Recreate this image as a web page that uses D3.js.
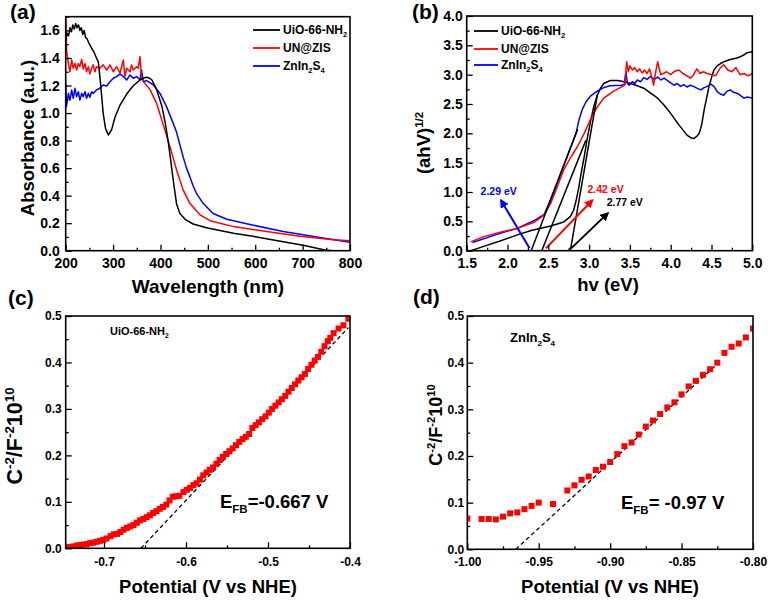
<!DOCTYPE html>
<html><head><meta charset="utf-8">
<script src="https://cdn.jsdelivr.net/npm/d3@7"></script>
<style>body{margin:0;background:#fff}svg{display:block}</style>
</head><body><svg id="c" width="768" height="600"></svg>
<script>
const FONT = '"Liberation Sans", Arial, sans-serif';
// ---------- (a) UV-vis absorbance ----------
const absUiO = [[200,1.53],[203,1.58],[206,1.56],[209,1.62],[212,1.59],[215,1.64],[218,1.61],[221,1.65],[224,1.62],[227,1.64],[230,1.60],[233,1.62],[236,1.57],[239,1.60],[242,1.55],[245,1.54],[250,1.50],[255,1.47],[260,1.44],[265,1.40],[269,1.37],[272,1.27],[276,1.12],[279,1.0],[284,0.89],[290,0.84],[297,0.88],[304,0.97],[315,1.06],[329,1.14],[343,1.20],[357,1.24],[365,1.255],[371,1.26],[376,1.255],[382,1.24],[392,1.17],[403,1.05],[410,0.93],[416,0.80],[420,0.70],[427,0.51],[434,0.34],[441,0.27],[452,0.228],[469,0.194],[497,0.167],[554,0.126],[603,0.10],[659,0.065],[701,0.04],[747,0.005],[765,0.0],[800,-0.005]];
const absUNZIS = [[200,1.72],[202,1.45],[205.6,1.36],[209,1.30],[212.6,1.386],[216,1.325],[219.6,1.362],[223,1.313],[226.7,1.36],[230,1.337],[233.7,1.39],[237,1.32],[240.7,1.36],[244,1.30],[247.8,1.337],[251,1.284],[254.8,1.325],[258,1.35],[261.8,1.30],[265,1.337],[272,1.325],[279,1.35],[286.5,1.313],[293.5,1.35],[300.5,1.30],[307.6,1.337],[314.6,1.289],[321.6,1.386],[325,1.265],[328.7,1.325],[335.7,1.30],[339,1.35],[342.7,1.313],[349.8,1.337],[353,1.325],[356.8,1.41],[360,1.265],[364,1.23],[378,1.17],[392,1.07],[406,0.914],[420,0.756],[434,0.587],[448,0.44],[462,0.344],[483.5,0.26],[504.6,0.218],[554,0.175],[624,0.14],[694.5,0.105],[765,0.08],[800,0.072]];
const absZIS = [[200,1.216],[201.4,1.045],[205.6,1.143],[209,1.094],[212.6,1.168],[216,1.107],[219.6,1.18],[223,1.119],[226.7,1.155],[230,1.094],[233.7,1.143],[237,1.119],[240.7,1.155],[244,1.107],[247.8,1.143],[251,1.114],[254.8,1.155],[258,1.143],[265,1.168],[272,1.18],[279,1.204],[286.5,1.197],[293.5,1.228],[300.5,1.253],[307.6,1.265],[314.6,1.284],[321.6,1.265],[328.7,1.24],[335.7,1.277],[342.7,1.253],[349.8,1.265],[356.8,1.24],[360,1.313],[363.8,1.228],[371,1.236],[385,1.204],[399,1.143],[413,1.045],[427,0.925],[434,0.86],[441,0.77],[448,0.68],[455,0.60],[462,0.538],[469,0.47],[476,0.417],[490,0.344],[511,0.27],[540,0.228],[589,0.19],[659,0.14],[730,0.10],[800,0.062]];
const absTicksX = [200,300,400,500,600,700,800];
const absTicksY = [0,0.2,0.4,0.6,0.8,1.0,1.2,1.4,1.6];
// ---------- (b) Tauc plot ----------
const taucUiO = [[1.55,0.0],[1.7,0.07],[1.9,0.16],[2.12,0.27],[2.3,0.35],[2.53,0.42],[2.69,0.49],[2.77,0.58],[2.81,0.69],[2.84,0.85],[2.87,1.05],[2.90,1.3],[2.94,1.6],[2.98,1.93],[3.02,2.22],[3.06,2.47],[3.10,2.65],[3.14,2.77],[3.18,2.85],[3.26,2.90],[3.35,2.90],[3.43,2.88],[3.51,2.85],[3.59,2.81],[3.67,2.77],[3.75,2.69],[3.84,2.60],[3.92,2.48],[4.0,2.34],[4.06,2.22],[4.12,2.11],[4.2,1.97],[4.24,1.93],[4.28,1.91],[4.32,1.95],[4.35,2.0],[4.38,2.15],[4.41,2.40],[4.44,2.60],[4.47,2.80],[4.5,2.95],[4.53,3.08],[4.57,3.15],[4.61,3.19],[4.67,3.23],[4.73,3.26],[4.8,3.28],[4.86,3.31],[4.9,3.34],[4.94,3.375],[5.0,3.39]];
const taucUNZIS = [[1.55,0.15],[1.71,0.24],[1.9,0.31],[2.12,0.38],[2.32,0.48],[2.45,0.61],[2.53,0.81],[2.61,1.09],[2.69,1.38],[2.77,1.58],[2.86,1.78],[2.94,2.0],[3.02,2.25],[3.10,2.45],[3.18,2.60],[3.30,2.72],[3.41,2.80],[3.44,2.83],[3.46,3.22],[3.48,3.05],[3.50,3.15],[3.53,3.08],[3.56,3.12],[3.59,3.05],[3.62,3.10],[3.65,3.03],[3.68,3.08],[3.71,3.02],[3.74,3.10],[3.77,2.95],[3.79,2.82],[3.81,3.0],[3.84,3.22],[3.86,3.1],[3.88,3.0],[3.91,3.02],[3.95,3.05],[4.0,3.0],[4.05,3.06],[4.1,3.08],[4.15,3.02],[4.2,2.98],[4.24,2.94],[4.28,3.0],[4.32,3.1],[4.36,3.02],[4.4,3.05],[4.45,3.02],[4.5,3.0],[4.55,2.98],[4.6,3.1],[4.65,3.17],[4.7,3.08],[4.75,3.05],[4.8,3.12],[4.85,3.0],[4.9,3.02],[4.95,2.98],[5.0,3.02]];
const taucZIS = [[1.57,0.14],[1.92,0.30],[2.12,0.38],[2.32,0.51],[2.45,0.62],[2.53,0.88],[2.61,1.17],[2.69,1.46],[2.77,1.75],[2.84,2.0],[2.88,2.25],[2.92,2.42],[2.96,2.53],[3.02,2.64],[3.10,2.72],[3.18,2.78],[3.26,2.81],[3.39,2.82],[3.43,2.83],[3.45,3.05],[3.47,2.85],[3.49,2.82],[3.53,2.88],[3.56,2.85],[3.59,2.91],[3.63,2.88],[3.67,2.95],[3.71,2.92],[3.75,2.97],[3.8,2.92],[3.84,2.96],[3.88,2.91],[3.92,2.94],[3.96,2.90],[4.0,2.86],[4.04,2.82],[4.08,2.85],[4.12,2.80],[4.16,2.83],[4.2,2.79],[4.24,2.82],[4.28,2.80],[4.32,2.77],[4.37,2.74],[4.41,2.78],[4.45,2.80],[4.49,2.84],[4.53,2.80],[4.57,2.71],[4.61,2.67],[4.65,2.65],[4.69,2.72],[4.73,2.74],[4.77,2.70],[4.82,2.68],[4.86,2.64],[4.9,2.60],[4.94,2.62],[5.0,2.60]];
const taucTangents = [[[2.29,0],[2.86,2.07]],[[2.42,0],[2.96,1.88]],[[2.77,0],[3.10,2.65]]];
const taucArrows = [[[2.27,0.04],[1.92,0.86]],[[2.47,0.04],[3.04,0.86]],[[2.78,0.04],[3.23,0.64]]];
const taucArrowColors = ["#0000ff","#ff0000","#000000"];
const taucLabels = ["2.29 eV","2.42 eV","2.77 eV"];
const taucLabelAt = [[1.67,0.95],[2.98,0.98],[3.215,0.76]];
const taucTicksX = [1.5,2.0,2.5,3.0,3.5,4.0,4.5,5.0];
const taucTicksY = [0,0.5,1.0,1.5,2.0,2.5,3.0,3.5,4.0];
// ---------- (c) Mott-Schottky UiO-66-NH2 ----------
const msUiO = [[-0.745,0.002],[-0.741,0.003],[-0.737,0.004],[-0.733,0.006],[-0.729,0.007],[-0.725,0.008],[-0.721,0.009],[-0.717,0.011],[-0.713,0.012],[-0.709,0.014],[-0.705,0.016],[-0.701,0.018],[-0.697,0.021],[-0.692,0.026],[-0.688,0.030],[-0.684,0.031],[-0.680,0.035],[-0.676,0.040],[-0.672,0.044],[-0.668,0.047],[-0.664,0.050],[-0.660,0.055],[-0.656,0.060],[-0.652,0.063],[-0.648,0.067],[-0.644,0.071],[-0.640,0.076],[-0.636,0.080],[-0.632,0.085],[-0.628,0.089],[-0.624,0.094],[-0.620,0.103],[-0.616,0.111],[-0.612,0.112],[-0.608,0.113],[-0.603,0.121],[-0.599,0.126],[-0.595,0.130],[-0.591,0.136],[-0.587,0.140],[-0.583,0.148],[-0.579,0.157],[-0.575,0.163],[-0.571,0.169],[-0.567,0.174],[-0.563,0.182],[-0.559,0.190],[-0.555,0.197],[-0.551,0.203],[-0.547,0.209],[-0.543,0.215],[-0.539,0.222],[-0.535,0.229],[-0.531,0.235],[-0.527,0.240],[-0.523,0.246],[-0.519,0.259],[-0.515,0.265],[-0.511,0.271],[-0.507,0.278],[-0.503,0.284],[-0.499,0.292],[-0.495,0.300],[-0.491,0.307],[-0.487,0.314],[-0.483,0.321],[-0.479,0.328],[-0.475,0.337],[-0.471,0.345],[-0.467,0.353],[-0.463,0.361],[-0.459,0.368],[-0.455,0.375],[-0.451,0.386],[-0.447,0.395],[-0.443,0.404],[-0.439,0.412],[-0.435,0.423],[-0.431,0.435],[-0.427,0.446],[-0.424,0.453],[-0.420,0.463],[-0.414,0.473],[-0.408,0.480],[-0.402,0.494]];
const msUiOFit = [[-0.655,0],[-0.402,0.475]];
const msUiOTicksX = [-0.7,-0.6,-0.5,-0.4];
const msTicksY = [0,0.1,0.2,0.3,0.4,0.5];
// ---------- (d) Mott-Schottky ZnIn2S4 ----------
const msZIS = [[-1.0,0.066],[-0.990,0.065],[-0.985,0.065],[-0.980,0.064],[-0.975,0.070],[-0.970,0.077],[-0.965,0.079],[-0.960,0.086],[-0.955,0.093],[-0.950,0.10],[-0.940,0.097],[-0.930,0.126],[-0.925,0.137],[-0.920,0.149],[-0.915,0.156],[-0.910,0.170],[-0.905,0.177],[-0.900,0.187],[-0.895,0.204],[-0.890,0.221],[-0.885,0.229],[-0.880,0.246],[-0.875,0.263],[-0.870,0.276],[-0.865,0.29],[-0.860,0.304],[-0.855,0.315],[-0.850,0.332],[-0.845,0.349],[-0.840,0.361],[-0.835,0.374],[-0.830,0.386],[-0.825,0.40],[-0.820,0.421],[-0.815,0.434],[-0.810,0.441],[-0.805,0.454],[-0.80,0.473]];
const msZISFit = [[-0.966,0],[-0.824,0.40]];
const msZISTicksX = [-1.0,-0.95,-0.9,-0.85,-0.8];

const seriesNames = ["UiO-66-NH2","UN@ZIS","ZnIn2S4"];
const seriesColors = ["#000000","#ff0000","#0000ff"];

const svg = d3.select("#c");
const defs = svg.append("defs");

function rich(sel, parts, fs) {
  let shift = 0;
  parts.forEach(([t, type]) => {
    const target = type === "sup" ? -0.38*fs : type === "sub" ? 0.28*fs : 0;
    const ts = sel.append("tspan").attr("dy", target - shift).text(t);
    if (type !== "n") ts.attr("font-size", 0.62*fs);
    shift = target;
  });
}
function label(x, y, parts, fs, opts = {}) {
  const t = svg.append("text").attr("x", x).attr("y", y)
    .attr("font-family", FONT).attr("font-weight", opts.weight || "bold")
    .attr("font-size", fs).attr("fill", opts.fill || "#000")
    .attr("text-anchor", opts.anchor || "start");
  if (opts.rotate) t.attr("x", 0).attr("y", 0).attr("transform", `translate(${x},${y}) rotate(-90)`);
  rich(t, parts, fs);
  return t;
}
function mids(arr) { const m=[]; for (let i=0;i<arr.length-1;i++) m.push(+((arr[i]+arr[i+1])/2).toFixed(4)); return m; }

function panel(p) {
  const x = d3.scaleLinear().domain(p.xd).range([p.l, p.r]);
  const y = d3.scaleLinear().domain(p.yd).range([p.b, p.t]);
  const g = svg.append("g");
  const id = "clip" + p.name;
  defs.append("clipPath").attr("id", id).append("rect")
    .attr("x", p.l).attr("y", p.t).attr("width", p.r - p.l).attr("height", p.b - p.t);
  const plot = g.append("g").attr("clip-path", `url(#${id})`);
  const ax = g.append("g");
  const xMin = p.xMin || mids(p.xMaj), yMin = p.yMin || mids(p.yMaj);
  ax.append("g").attr("transform", `translate(0,${p.b})`)
    .call(d3.axisBottom(x).tickValues(xMin).tickSize(-3).tickFormat(""));
  ax.append("g").attr("transform", `translate(0,${p.b})`)
    .call(d3.axisBottom(x).tickValues(p.xMaj).tickSize(-6).tickPadding(p.xPad).tickFormat(p.xFmt));
  ax.append("g").attr("transform", `translate(${p.l},0)`)
    .call(d3.axisLeft(y).tickValues(yMin).tickSize(-3).tickFormat(""));
  ax.append("g").attr("transform", `translate(${p.l},0)`)
    .call(d3.axisLeft(y).tickValues(p.yMaj).tickSize(-6).tickPadding(p.yPad).tickFormat(p.yFmt));
  ax.selectAll(".domain").remove();
  ax.selectAll("line").attr("stroke-width", 1.3).attr("stroke", "#000");
  ax.selectAll("text").attr("font-size", p.fs).attr("font-weight", "bold")
    .attr("font-family", FONT).attr("fill", "#000");
  g.append("rect").attr("x", p.l).attr("y", p.t).attr("width", p.r - p.l).attr("height", p.b - p.t)
    .attr("fill", "none").attr("stroke", "#000").attr("stroke-width", 1.6);
  return { x, y, plot, g };
}
const f1 = d => d.toFixed(1), f2 = d => d.toFixed(2), f0 = d => d.toFixed(0);

// ===== Panel (a) =====
const A = panel({ name: "a", l: 65.7, r: 350, t: 16.7, b: 250.7, xd: [200, 800], yd: [0, 1.7],
  xMaj: absTicksX, yMaj: absTicksY, yMin: [0.1,0.3,0.5,0.7,0.9,1.1,1.3,1.5,1.7], xFmt: f0, yFmt: f1, fs: 14, xPad: 7, yPad: 6 });
const lineA = d3.line().x(d => A.x(d[0])).y(d => A.y(d[1]));
[[absZIS, seriesColors[2]], [absUNZIS, seriesColors[1]], [absUiO, seriesColors[0]]].forEach(([s, c]) => {
  A.plot.append("path").attr("d", lineA(s)).attr("fill", "none")
    .attr("stroke", c).attr("stroke-width", 1.5).attr("stroke-linejoin", "round");
});
[30, 48, 66].forEach((yy, i) => {
  svg.append("line").attr("x1", 253).attr("x2", 280).attr("y1", yy).attr("y2", yy)
    .attr("stroke", seriesColors[i]).attr("stroke-width", 1.8);
});
label(283, 34, [["UiO-66-NH","n"],["2","sub"]], 12);
label(283, 52, [["UN@ZIS","n"]], 12);
label(283, 70, [["ZnIn","n"],["2","sub"],["S","n"],["4","sub"]], 12);
label(10, 19, [["(a)","n"]], 21);
label(208, 293, [["Wavelength (nm)","n"]], 19, { anchor: "middle" });
label(34, 138, [["Absorbance (a.u.)","n"]], 18.5, { anchor: "middle", rotate: true });

// ===== Panel (b) =====
const B = panel({ name: "b", l: 466.7, r: 752.3, t: 16, b: 250.7, xd: [1.5, 5], yd: [0, 4],
  xMaj: taucTicksX, yMaj: taucTicksY, xFmt: f1, yFmt: f1, fs: 14, xPad: 7, yPad: 4 });
const lineB = d3.line().x(d => B.x(d[0])).y(d => B.y(d[1]));
[[taucUiO, seriesColors[0]], [taucZIS, seriesColors[2]], [taucUNZIS, seriesColors[1]]].forEach(([s, c]) => {
  B.plot.append("path").attr("d", lineB(s)).attr("fill", "none").attr("stroke", c)
    .attr("stroke-width", 1.5).attr("stroke-linejoin", "round");
});
taucTangents.forEach(seg => {
  B.plot.append("path").attr("d", lineB(seg)).attr("stroke", "#000").attr("stroke-width", 1.5).attr("fill", "none");
});
taucArrowColors.forEach((c, i) => {
  defs.append("marker").attr("id", "arr" + i).attr("viewBox", "0 0 10 10").attr("refX", 8).attr("refY", 5)
    .attr("markerWidth", 4.5).attr("markerHeight", 4.5).attr("orient", "auto").attr("markerUnits", "strokeWidth")
    .append("path").attr("d", "M0,0L10,5L0,10z").attr("fill", c);
});
taucArrows.forEach((seg, i) => {
  B.plot.append("path").attr("d", lineB(seg)).attr("stroke", taucArrowColors[i]).attr("stroke-width", 2)
    .attr("fill", "none").attr("marker-end", `url(#arr${i})`);
});
taucLabels.forEach((t, i) => {
  label(B.x(taucLabelAt[i][0]), B.y(taucLabelAt[i][1]), [[t, "n"]], 10.5, { fill: taucArrowColors[i] });
});
[31, 49, 65].forEach((yy, i) => {
  svg.append("line").attr("x1", 474).attr("x2", 498).attr("y1", yy).attr("y2", yy)
    .attr("stroke", seriesColors[i]).attr("stroke-width", 1.8);
});
label(501, 35, [["UiO-66-NH","n"],["2","sub"]], 12);
label(501, 53, [["UN@ZIS","n"]], 12);
label(501, 69, [["ZnIn","n"],["2","sub"],["S","n"],["4","sub"]], 12);
label(412, 19, [["(b)","n"]], 21);
label(608, 291, [["hv (eV)","n"]], 18.5, { anchor: "middle" });
label(430, 143, [["(ahV)","n"],["1/2","sup"]], 18.5, { anchor: "middle", rotate: true });

// ===== Panel (c) =====
const C = panel({ name: "c", l: 65.7, r: 350, t: 316, b: 548.3, xd: [-0.7467, -0.4], yd: [0, 0.5],
  xMaj: msUiOTicksX, xMin: [-0.65, -0.55, -0.45], yMaj: msTicksY, xFmt: f1, yFmt: f1, fs: 12, xPad: 9, yPad: 4 });
C.plot.append("path").attr("d", d3.line().x(d => C.x(d[0])).y(d => C.y(d[1]))(msUiOFit))
  .attr("stroke", "#000").attr("stroke-width", 1.3).attr("stroke-dasharray", "4,3").attr("fill", "none");
C.plot.selectAll("rect.pt").data(msUiO).join("rect").attr("class", "pt")
  .attr("x", d => C.x(d[0]) - 3).attr("y", d => C.y(d[1]) - 3).attr("width", 6).attr("height", 6).attr("fill", "#ff0000");
label(110, 335, [["UiO-66-NH","n"],["2","sub"]], 11);
label(220, 508, [["E","n"],["FB","sub"],["=-0.667 V","n"]], 18.5);
label(8, 305, [["(c)","n"]], 21);
label(208, 593, [["Potential (V vs NHE)","n"]], 18.5, { anchor: "middle" });
label(22, 436, [["C","n"],["-2","sup"],["/F","n"],["-2","sup"],["10","n"],["10","sup"]], 21.5, { anchor: "middle", rotate: true });

// ===== Panel (d) =====
const D = panel({ name: "d", l: 467.3, r: 753, t: 316, b: 549.3, xd: [-1.0, -0.8], yd: [0, 0.5],
  xMaj: msZISTicksX, yMaj: msTicksY, xFmt: f2, yFmt: f1, fs: 12, xPad: 8, yPad: 3 });
D.plot.append("path").attr("d", d3.line().x(d => D.x(d[0])).y(d => D.y(d[1]))(msZISFit))
  .attr("stroke", "#000").attr("stroke-width", 1.3).attr("stroke-dasharray", "4,3").attr("fill", "none");
D.plot.selectAll("rect.pt").data(msZIS).join("rect").attr("class", "pt")
  .attr("x", d => D.x(d[0]) - 3).attr("y", d => D.y(d[1]) - 3).attr("width", 6).attr("height", 6).attr("fill", "#ff0000");
label(510, 342, [["ZnIn","n"],["2","sub"],["S","n"],["4","sub"]], 13);
label(621, 509, [["E","n"],["FB","sub"],["= -0.97 V","n"]], 18.5);
label(413, 304, [["(d)","n"]], 21);
label(610, 593, [["Potential (V vs NHE)","n"]], 18.5, { anchor: "middle" });
label(442, 425, [["C","n"],["-2","sup"],["/F","n"],["-2","sup"],["10","n"],["10","sup"]], 18, { anchor: "middle", rotate: true });
</script></body></html>
